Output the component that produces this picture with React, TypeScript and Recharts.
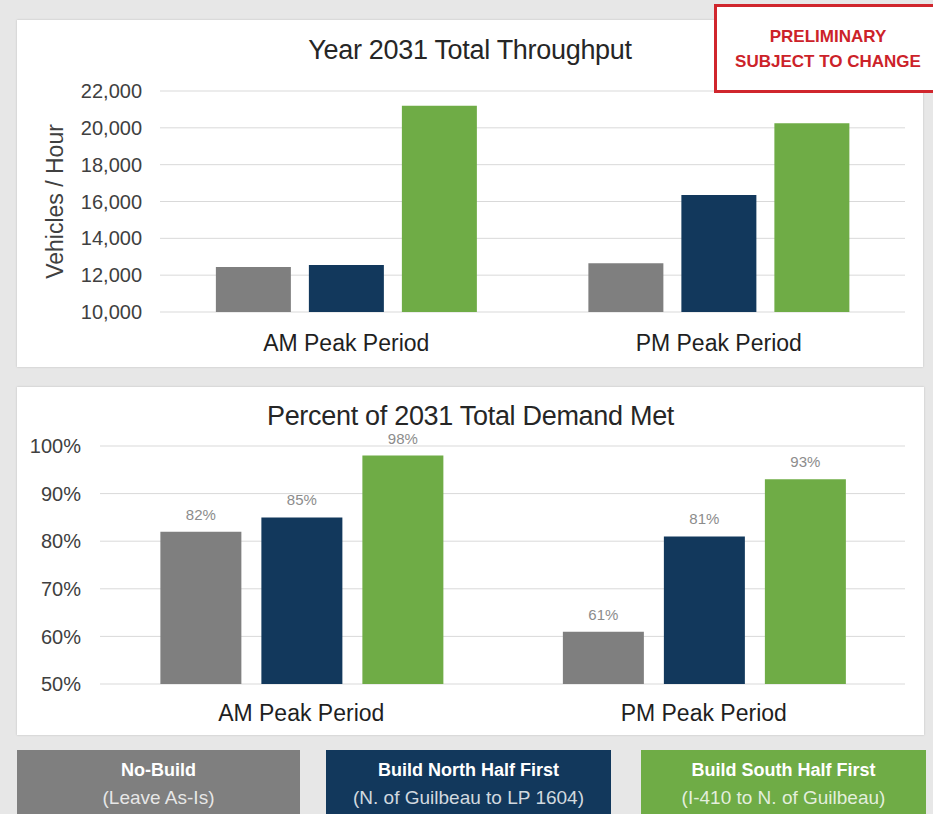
import { BarChart, Bar, XAxis, YAxis, CartesianGrid, LabelList } from 'recharts';

// ---- data ----
const periods = ['AM Peak Period', 'PM Peak Period'];

const throughputNoBuild = [12450, 12650];
const throughputNorth = [12550, 16350];
const throughputSouth = [21200, 20250];
const throughputTicks = [10000, 12000, 14000, 16000, 18000, 20000, 22000];

const demandNoBuild = [82, 61];
const demandNorth = [85, 81];
const demandSouth = [98, 93];
const demandTicks = [50, 60, 70, 80, 90, 100];

const scenarioNames = ['No-Build', 'Build North Half First', 'Build South Half First'];
const scenarioNotes = ['(Leave As-Is)', '(N. of Guilbeau to LP 1604)', '(I-410 to N. of Guilbeau)'];
const scenarioColors = ['#7f7f7f', '#12385c', '#6fac46'];

const FONT = '"Liberation Sans", Arial, Helvetica, sans-serif';

const throughputData = periods.map((p, i) => ({
    period: p,
    noBuild: throughputNoBuild[i],
    north: throughputNorth[i],
    south: throughputSouth[i],
}));

const demandData = periods.map((p, i) => ({
    period: p,
    noBuild: demandNoBuild[i],
    north: demandNorth[i],
    south: demandSouth[i],
}));

const seriesKeys = ['noBuild', 'north', 'south'];

// rotated y-axis title
// eslint-disable-next-line @typescript-eslint/no-explicit-any
const renderVehiclesLabel = (props: any) => {
    const vb = props.viewBox;
    const cy = vb.y + vb.height / 2;
    const x = vb.x + 38;
    return (
        <text
            x={x}
            y={cy}
            transform={`rotate(-90, ${x}, ${cy})`}
            textAnchor="middle"
            dominantBaseline="central"
            fill="#404040"
            fontSize={23}
            fontFamily={FONT}
        >
            Vehicles / Hour
        </text>
    );
};

const panelStyle: React.CSSProperties = {
    position: 'absolute',
    background: '#ffffff',
    boxShadow: '0 0 2px rgba(0,0,0,0.18)',
};

const titleStyle: React.CSSProperties = {
    position: 'absolute',
    left: 0,
    width: '100%',
    textAlign: 'center',
    fontFamily: FONT,
    fontSize: 27,
    lineHeight: '32px',
    color: '#262626',
    letterSpacing: -0.3,
};

export default function App() {
    return (
        <div
            style={{
                position: 'relative',
                width: 933,
                height: 814,
                overflow: 'hidden',
                background: '#e7e7e7',
                fontFamily: FONT,
            }}
        >
            <style>{`html,body{margin:0;padding:0;overflow:hidden;}`}</style>

            {/* Throughput panel */}
            <div style={{ ...panelStyle, left: 17, top: 20, width: 906, height: 347 }}>
                <div style={{ ...titleStyle, top: 14 }}>Year 2031 Total Throughput</div>
                <BarChart
                    width={906}
                    height={347}
                    data={throughputData}
                    margin={{ top: 71, right: 18, left: 0, bottom: 0 }}
                    barCategoryGap="15%"
                    barGap={18}
                >
                    <CartesianGrid vertical={false} stroke="#d9d9d9" />
                    <XAxis
                        dataKey="period"
                        axisLine={false}
                        tickLine={false}
                        height={55}
                        tickMargin={17}
                        tick={{ fill: '#1f1f1f', fontSize: 23, fontFamily: FONT }}
                    />
                    <YAxis
                        type="number"
                        domain={[10000, 22000]}
                        ticks={throughputTicks}
                        interval={0}
                        width={143}
                        axisLine={false}
                        tickLine={false}
                        tickMargin={12}
                        tick={{ fill: '#404040', fontSize: 20, fontFamily: FONT }}
                        tickFormatter={(v: number) => v.toLocaleString('en-US')}
                        label={renderVehiclesLabel}
                    />
                    {seriesKeys.map((k, i) => (
                        <Bar key={k} dataKey={k} fill={scenarioColors[i]} isAnimationActive={false} />
                    ))}
                </BarChart>
            </div>

            {/* Demand met panel */}
            <div style={{ ...panelStyle, left: 17, top: 387, width: 907, height: 348 }}>
                <div style={{ ...titleStyle, top: 13 }}>Percent of 2031 Total Demand Met</div>
                <BarChart
                    width={907}
                    height={348}
                    data={demandData}
                    margin={{ top: 59, right: 19, left: 0, bottom: 0 }}
                    barCategoryGap="15%"
                    barGap={20}
                >
                    <CartesianGrid vertical={false} stroke="#d9d9d9" />
                    <XAxis
                        dataKey="period"
                        axisLine={false}
                        tickLine={false}
                        height={51}
                        tickMargin={15}
                        tick={{ fill: '#1f1f1f', fontSize: 23, fontFamily: FONT }}
                    />
                    <YAxis
                        type="number"
                        domain={[50, 100]}
                        ticks={demandTicks}
                        interval={0}
                        width={83}
                        axisLine={false}
                        tickLine={false}
                        tickMargin={13}
                        tick={{ fill: '#404040', fontSize: 20, fontFamily: FONT }}
                        tickFormatter={(v: number) => `${v}%`}
                    />
                    {seriesKeys.map((k, i) => (
                        <Bar key={k} dataKey={k} fill={scenarioColors[i]} isAnimationActive={false}>
                            <LabelList
                                dataKey={k}
                                position="top"
                                offset={12}
                                formatter={(v: number) => `${v}%`}
                                style={{ fill: '#8c8c8c', fontSize: 15, fontFamily: FONT }}
                            />
                        </Bar>
                    ))}
                </BarChart>
            </div>

            {/* Preliminary stamp */}
            <div
                style={{
                    position: 'absolute',
                    left: 714,
                    top: 4,
                    width: 230,
                    height: 89,
                    boxSizing: 'border-box',
                    border: '3px solid #d0262d',
                    background: '#ffffff',
                }}
            />
            <div
                style={{
                    position: 'absolute',
                    left: 714,
                    top: 24,
                    width: 228,
                    textAlign: 'center',
                    color: '#cc2229',
                    fontWeight: 'bold',
                    fontSize: 17,
                    lineHeight: '25px',
                }}
            >
                PRELIMINARY
                <br />
                SUBJECT TO CHANGE
            </div>

            {/* Scenario legend */}
            {scenarioNames.map((name, i) => (
                <div
                    key={name}
                    style={{
                        position: 'absolute',
                        left: [17, 326, 641][i],
                        top: 750,
                        width: [283, 285, 285][i],
                        height: 70,
                        background: scenarioColors[i],
                        textAlign: 'center',
                        paddingTop: 6,
                        boxSizing: 'border-box',
                        lineHeight: '28px',
                    }}
                >
                    <div style={{ color: '#ffffff', fontWeight: 'bold', fontSize: 18 }}>{name}</div>
                    <div style={{ color: 'rgba(255,255,255,0.82)', fontSize: 19 }}>{scenarioNotes[i]}</div>
                </div>
            ))}
        </div>
    );
}
